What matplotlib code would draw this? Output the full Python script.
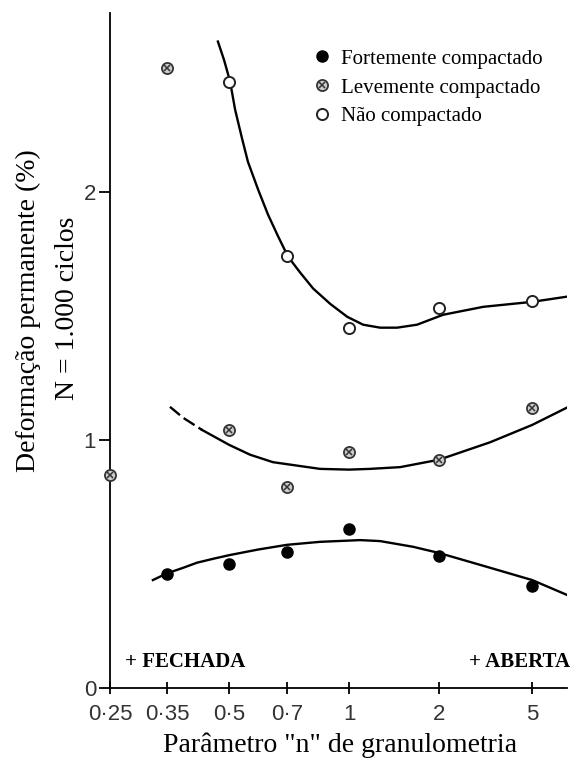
import matplotlib.pyplot as plt
from matplotlib.lines import Line2D
import numpy as np

# categories on the n axis (tick labels)
n_ticks = [0.25, 0.35, 0.5, 0.7, 1, 2, 5]
n_tick_labels = ['0·25', '0·35', '0·5', '0·7', '1', '2', '5']

# measured points
n_forte = [0.35, 0.5, 0.7, 1, 2, 5]
y_forte = [0.46, 0.50, 0.55, 0.64, 0.53, 0.41]

n_leve = [0.25, 0.35, 0.5, 0.7, 1, 2, 5]
y_leve = [0.86, 2.50, 1.04, 0.81, 0.95, 0.92, 1.13]

n_nao = [0.5, 0.7, 1, 2, 5]
y_nao = [2.44, 1.74, 1.45, 1.53, 1.56]

# fitted curves
cn_forte = [0.322, 0.35, 0.385, 0.416, 0.46, 0.503, 0.592, 0.70, 0.846, 1.0, 1.088, 1.27, 1.637, 2.0, 3.0, 5.0, 7.06]
cy_forte = [0.435, 0.462, 0.485, 0.505, 0.522, 0.536, 0.558, 0.577, 0.589, 0.594, 0.596, 0.592, 0.569, 0.544, 0.496, 0.435, 0.375]

cn_leve_dash = [0.356, 0.384, 0.428]
cy_leve_dash = [1.133, 1.089, 1.04]
cn_leve = [0.428, 0.5, 0.565, 0.645, 0.846, 1.0, 1.176, 1.481, 2.0, 3.30, 5.0, 7.06]
cy_leve = [1.04, 0.98, 0.94, 0.91, 0.883, 0.88, 0.883, 0.89, 0.92, 0.99, 1.06, 1.13]

cn_nao = [0.469, 0.486, 0.503, 0.518, 0.539, 0.558, 0.592, 0.627, 0.665, 0.704, 0.754, 0.813,
          0.897, 0.989, 1.114, 1.27, 1.447, 1.688, 2.08, 3.09, 5.0, 7.06]
cy_nao = [2.605, 2.53, 2.444, 2.33, 2.215, 2.12, 2.008, 1.907, 1.819, 1.738, 1.675, 1.610,
          1.548, 1.496, 1.464, 1.452, 1.452, 1.464, 1.504, 1.536, 1.556, 1.577]

# the n axis of the original is neither linear nor log: piecewise stations
st_log = np.log10([0.1, 0.25, 0.35, 0.5, 0.7, 1, 2, 5, 10])
st_pos = np.array([-45, 110, 167, 229, 287, 349, 439, 532, 602], dtype=float)


def fwd(x):
    x = np.clip(np.asarray(x, dtype=float), 1e-3, None)
    return np.interp(np.log10(x), st_log, st_pos)


def inv(p):
    return 10 ** np.interp(p, st_pos, st_log)


serif = 'Liberation Serif'
sans = 'Liberation Sans'

W, H = 571, 765
fig = plt.figure(figsize=(W / 100, H / 100), dpi=100)
ax = fig.add_axes([110 / W, 1 - 688 / H, (567 - 110) / W, (688 - 13) / H])
ax.set_xscale('function', functions=(fwd, inv))
ax.set_xlim(0.25, 7.06)
ax.set_ylim(0, 2.72)

lw = 1.7
ax.plot(cn_forte, cy_forte, color='black', lw=lw)
ax.plot(cn_leve, cy_leve, color='black', lw=lw)
ax.plot(cn_leve_dash, cy_leve_dash, color='black', lw=lw, linestyle=(0, (5.5, 2)))
ax.plot(cn_nao, cy_nao, color='black', lw=lw)

ms = 8
ax.plot(n_forte, y_forte, 'o', color='black', ms=ms, clip_on=False, zorder=5)
ax.plot(n_leve, y_leve, 'o', mfc='#cccccc', mec='#333333', mew=1.3, ms=ms, clip_on=False, zorder=5)
ax.plot(n_leve, y_leve, 'x', color='#333333', mew=1.1, ms=4, clip_on=False, zorder=6)
ax.plot(n_nao, y_nao, 'o', mfc='white', mec='#222222', mew=1.4, ms=ms, clip_on=False, zorder=5)

for s in ['top', 'right']:
    ax.spines[s].set_visible(False)
for s in ['left', 'bottom']:
    ax.spines[s].set_linewidth(1.3)

ax.set_xticks(n_ticks)
ax.set_xticklabels(n_tick_labels)
ax.xaxis.set_minor_locator(plt.NullLocator())
ax.set_yticks([0, 1, 2])
ax.set_yticklabels(['0', '1', '2'])
ax.tick_params(axis='x', direction='inout', length=9, width=1.3, pad=7, labelsize=16)
ax.tick_params(axis='y', direction='out', length=8, width=1.3, pad=2, labelsize=16)
for lab in ax.get_xticklabels() + ax.get_yticklabels():
    lab.set_fontfamily(sans)
    lab.set_color('#333333')

h_forte = Line2D([], [], marker='o', color='black', ls='', ms=ms)
h_leve_o = Line2D([], [], marker='o', mfc='#cccccc', mec='#333333', mew=1.3, ls='', ms=ms)
h_leve_x = Line2D([], [], marker='x', color='#333333', mew=1.1, ls='', ms=4)
h_nao = Line2D([], [], marker='o', mfc='white', mec='#222222', mew=1.4, ls='', ms=ms)
fig.legend([h_forte, (h_leve_o, h_leve_x), h_nao],
           ['Fortemente compactado', 'Levemente compactado', 'Não compactado'],
           loc='upper left', bbox_to_anchor=(312 / W, 1 - 49 / H),
           frameon=False, borderpad=0, borderaxespad=0, handlelength=1.0,
           handletextpad=0.4, labelspacing=0.45,
           prop={'family': serif, 'size': 15})

fig.text(28 / W, 1 - 311 / H, 'Deformação permanente (%)', rotation=90,
         ha='center', va='center', family=serif, fontsize=20)
fig.text(67 / W, 1 - 308 / H, 'N = 1.000 ciclos', rotation=90,
         ha='center', va='center', family=serif, fontsize=20)
fig.text(340 / W, 1 - 745 / H, 'Parâmetro "n" de granulometria',
         ha='center', va='center', family=serif, fontsize=20)
fig.text(125 / W, 1 - 662 / H, '+ FECHADA', ha='left', va='center',
         family=serif, fontsize=15, fontweight='bold')
fig.text(570 / W, 1 - 662 / H, '+ ABERTA', ha='right', va='center',
         family=serif, fontsize=15, fontweight='bold')

fig.savefig('out.png', dpi=100)
